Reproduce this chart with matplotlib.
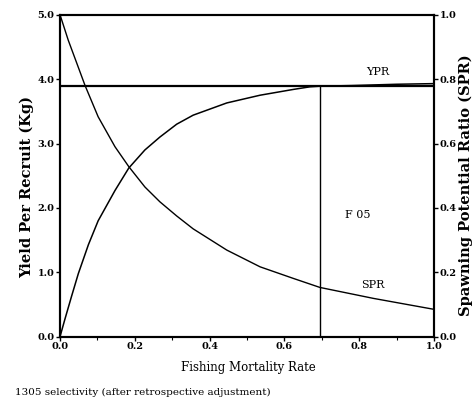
import matplotlib
matplotlib.use("Agg")
import matplotlib.pyplot as plt
from matplotlib.ticker import MultipleLocator, FormatStrFormatter

plt.rcParams['font.family'] = 'DejaVu Serif'

# yield per recruit (kg) against fishing mortality
f_ypr = [0.0, 0.013, 0.031, 0.049, 0.076, 0.102, 0.147, 0.184, 0.227, 0.267,
         0.312, 0.356, 0.446, 0.535, 0.624, 0.668, 0.695, 0.78, 0.9, 1.0]
ypr = [0.0, 0.27, 0.63, 0.98, 1.43, 1.80, 2.27, 2.62, 2.90, 3.10,
       3.30, 3.44, 3.63, 3.75, 3.84, 3.88, 3.89, 3.90, 3.92, 3.93]

# spawning potential ratio against fishing mortality
f_spr = [0.0, 0.022, 0.045, 0.067, 0.102, 0.147, 0.184, 0.227, 0.267, 0.312,
         0.356, 0.446, 0.535, 0.624, 0.695, 0.838, 1.0]
spr = [1.0, 0.921, 0.849, 0.78, 0.683, 0.59, 0.528, 0.465, 0.419, 0.375,
       0.335, 0.269, 0.217, 0.181, 0.153, 0.119, 0.085]

ypr_max = 3.89
f_ref = 0.695

fig = plt.figure(figsize=(4.74, 4.03), dpi=100)
ax = fig.add_axes([0.1266, 0.1645, 0.789, 0.799])
ax2 = ax.twinx()

ax.plot(f_ypr, ypr, color='black', lw=1.1)
ax2.plot(f_spr, spr, color='black', lw=1.0)
ax.axhline(ypr_max, color='black', lw=1.6)
ax.plot([f_ref, f_ref], [0, ypr_max], color='black', lw=1.0)

ax.set_xlim(0, 1.0)
ax.set_ylim(0, 5.0)
ax2.set_ylim(0, 1.0)

ax.xaxis.set_major_locator(MultipleLocator(0.2))
ax.xaxis.set_minor_locator(MultipleLocator(0.1))
ax.yaxis.set_major_locator(MultipleLocator(1.0))
ax2.yaxis.set_major_locator(MultipleLocator(0.2))
ax.xaxis.set_major_formatter(FormatStrFormatter('%.1f'))
ax.yaxis.set_major_formatter(FormatStrFormatter('%.1f'))
ax2.yaxis.set_major_formatter(FormatStrFormatter('%.1f'))

for a in (ax, ax2):
    a.tick_params(which='major', length=3, width=1, labelsize=7, pad=1)
    a.tick_params(which='minor', length=2, width=0.8)
    for s in a.spines.values():
        s.set_linewidth(1.5)
for lab in ax.get_xticklabels() + ax.get_yticklabels() + ax2.get_yticklabels():
    lab.set_fontweight('bold')

ax.text(0.85, 4.03, 'YPR', fontsize=8, ha='center', va='bottom')
ax.text(0.837, 0.72, 'SPR', fontsize=8, ha='center', va='bottom')
ax.text(0.762, 1.89, 'F 05', fontsize=8, ha='left', va='center')

fig.text(0.056, 0.537, 'Yield Per Recruit (Kg)', rotation=90, fontsize=10.5,
         fontweight='bold', ha='center', va='center')
fig.text(0.982, 0.54, 'Spawning Potential Ratio (SPR)', rotation=90, fontsize=10.5,
         fontweight='bold', ha='center', va='center')
fig.text(0.525, 0.089, 'Fishing Mortality Rate', fontsize=8.5, ha='center', va='center')
fig.text(0.032, 0.027, '1305 selectivity (after retrospective adjustment)', fontsize=7.5,
         ha='left', va='center')

fig.savefig('out.png', dpi=100)
